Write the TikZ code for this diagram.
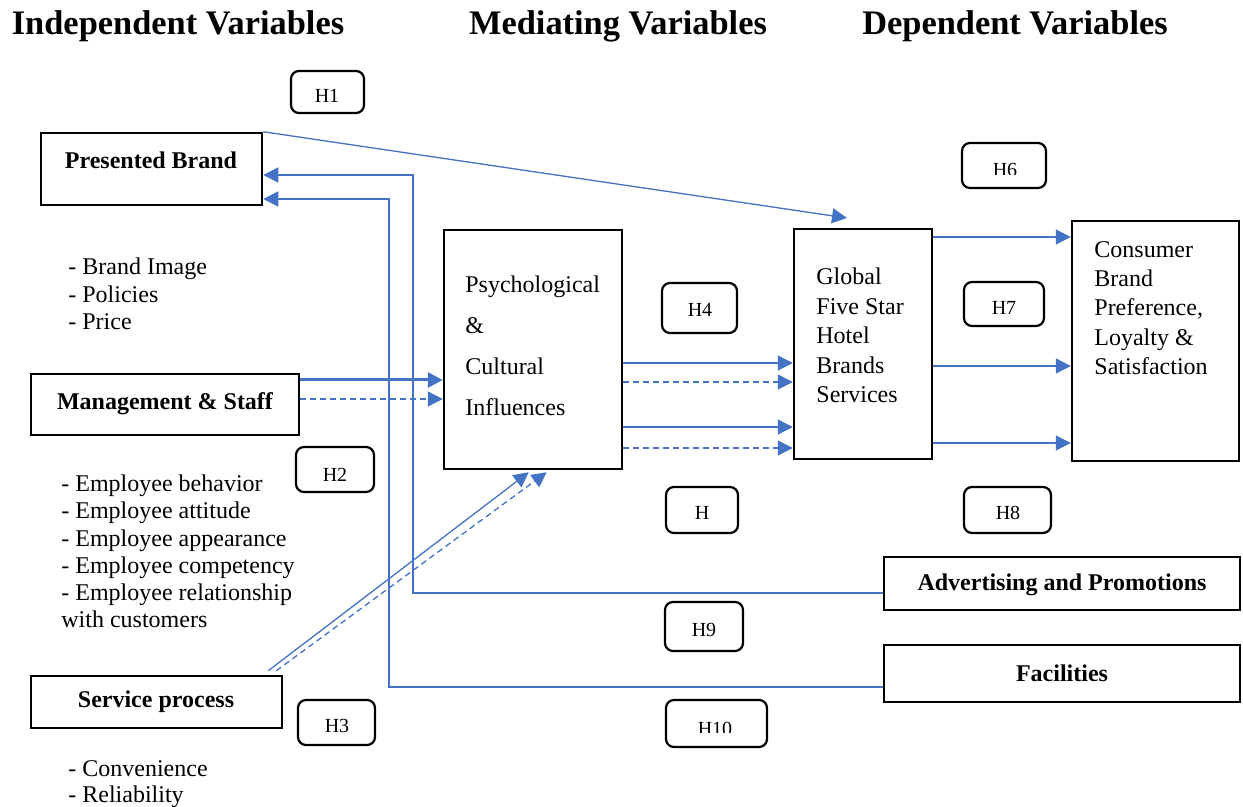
\documentclass[tikz,border=0pt]{standalone}
\usepackage{fontspec}
\setmainfont{Liberation Serif}
\usetikzlibrary{arrows.meta,fit,calc}
\definecolor{lblue}{HTML}{4472C4}
\begin{document}
\begin{tikzpicture}[x=0.5pt,y=-0.5pt,
  box/.style={draw=black, line width=1.25pt, inner sep=0pt},
  hyp/.style={draw=black, line width=1.1pt, rounded corners=4pt, inner sep=0pt},
  body/.style={font=\fontsize{12}{13.6}\selectfont, align=left, inner sep=0pt},
  bbold/.style={font=\fontsize{12}{14}\selectfont\bfseries, inner sep=0pt},
  htxt/.style={font=\fontsize{10}{12}\selectfont, inner sep=0pt},
  title/.style={font=\fontsize{17.2}{20}\selectfont\bfseries, inner sep=0pt},
  arr/.style={draw=lblue, line width=0.65pt, -{Triangle[length=7.5pt,width=7.5pt]}},
  darr/.style={arr, dash pattern=on 3pt off 2pt},
]
\useasboundingbox[fill=white] (0,0) rectangle (1243,807);

% titles
\node[title, anchor=base] (t1) at (178,35) {Independent Variables};
\node[title, anchor=base] (t2) at (618,35) {Mediating Variables};
\node[title, anchor=base] (t3) at (1015,35) {Dependent Variables};

% main boxes
\node[box, fit={(41,133) (262,205)}] (pb) {};
\node[box, fit={(31,374) (299,435)}] (ms) {};
\node[box, fit={(31,676) (282,728)}] (sp) {};
\node[box, fit={(444,230) (622,469)}] (psych) {};
\node[box, fit={(794,229) (932,459)}] (glob) {};
\node[box, fit={(1072,221) (1239,461)}] (cons) {};
\node[box, fit={(884,557) (1240,610)}] (ad) {};
\node[box, fit={(884,645) (1240,702)}] (fac) {};

% texts in boxes
\node[bbold] (pbt) at (151,160) {Presented Brand};
\node[bbold] (mst) at (165,404) {Management \& Staff};
\node[bbold] (spt) at (156,702) {Service process};
\node[bbold] (adt) at (1062,585) {Advertising and Promotions};
\node[bbold] (fact) at (1062,673) {Facilities};
\node[body, anchor=west, font=\fontsize{12}{20.5}\selectfont] (psycht) at (465,346) {Psychological\\\&\\Cultural\\Influences};
\node[body, anchor=west, font=\fontsize{12}{14.75}\selectfont] (globt) at (816,335.5) {Global\\Five Star\\Hotel\\Brands\\Services};
\node[body, anchor=west, font=\fontsize{12}{14.6}\selectfont] (const) at (1094,308) {Consumer\\Brand\\Preference,\\Loyalty \&\\Satisfaction};

% lists
\node[body, anchor=west, font=\fontsize{12}{13.75}\selectfont] (l1) at (68,294) {- Brand Image\\- Policies\\- Price};
\node[body, anchor=west] (l2) at (61,551.5) {- Employee behavior\\- Employee attitude\\- Employee appearance\\- Employee competency\\- Employee relationship\\with customers};
\node[body, anchor=west, font=\fontsize{12}{13}\selectfont] (l3) at (68,784.5) {- Convenience\\- Reliability};

% hypothesis boxes
\node[hyp, fit={(291,71) (364,113)}] (h1) {};
\node[htxt] (h1t) at (327,96) {H1};
\node[hyp, fit={(296,447) (374,492)}] (h2) {};
\begin{scope}\clip (296,447) rectangle (374,481);
\node[htxt] (h2t) at (335,474.5) {H2};
\end{scope}
\node[hyp, fit={(298,700) (375,745)}] (h3) {};
\node[htxt] (h3t) at (337,726) {H3};
\node[hyp, fit={(662,283) (737,333)}] (h4) {};
\node[htxt] (h4t) at (700,310) {H4};
\node[hyp, fit={(666,487) (738,533)}] (h5) {};
\node[htxt] (h5t) at (702,513) {H};
\node[hyp, fit={(962,143) (1046,188)}] (h6) {};
\begin{scope}\clip (962,143) rectangle (1046,175);
\node[htxt] (h6t) at (1005,169.5) {H6};
\end{scope}
\node[hyp, fit={(964,282) (1044,326)}] (h7) {};
\node[htxt] (h7t) at (1004,308) {H7};
\node[hyp, fit={(964,487) (1051,533)}] (h8) {};
\node[htxt] (h8t) at (1008,513) {H8};
\node[hyp, fit={(665,602) (743,651)}] (h9) {};
\node[htxt] (h9t) at (704,630) {H9};
\node[hyp, fit={(666,700) (767,747)}] (h10) {};
\begin{scope}\clip (666,700) rectangle (767,732);
\node[htxt] (h10t) at (715,728.5) {H10};
\end{scope}

% connectors
\coordinate (h1end) at (847,218);
\draw[arr] (pb.north east) -- (h1end);

\draw[arr, line width=1.5pt] (ms.east |- 0,380) -- (psych.west |- 0,380);
\draw[darr] (ms.east |- 0,399) -- (psych.west |- 0,399);

\draw[arr] ($(sp.north east)+(-15,-4)$) -- ($(psych.south west)+(86,2)$);
\draw[darr] ($(sp.north east)+(-7,-4)$) -- ($(psych.south west)+(104,2)$);

\draw[arr] (psych.east |- 0,363) -- (glob.west |- 0,363);
\draw[darr] (psych.east |- 0,382) -- (glob.west |- 0,382);
\draw[arr] (psych.east |- 0,427) -- (glob.west |- 0,427);
\draw[darr] (psych.east |- 0,448) -- (glob.west |- 0,448);

\draw[arr] (glob.east |- 0,237) -- (cons.west |- 0,237);
\draw[arr] (glob.east |- 0,366) -- (cons.west |- 0,366);
\draw[arr] (glob.east |- 0,443) -- (cons.west |- 0,443);

\draw[arr] (ad.west |- 0,593) -| (413,175) -- (pb.east |- 0,175);
\draw[arr] (fac.west |- 0,687) -| (389,199) -- (pb.east |- 0,199);
\end{tikzpicture}
\end{document}
